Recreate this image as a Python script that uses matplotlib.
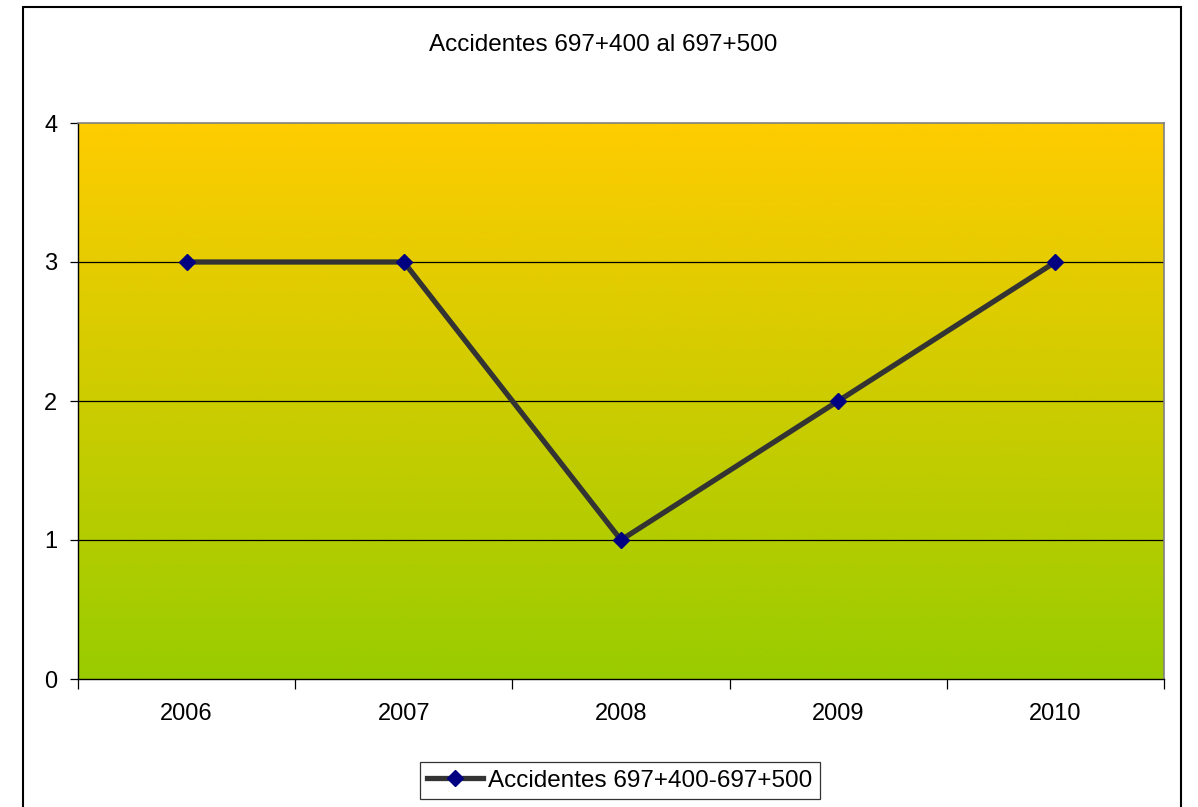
import matplotlib
matplotlib.use("Agg")
import matplotlib.pyplot as plt
import numpy as np
from matplotlib.colors import LinearSegmentedColormap
from matplotlib.patches import Rectangle

plt.rcParams["font.family"] = ["Liberation Sans", "DejaVu Sans"]

# Data
years = ["2006", "2007", "2008", "2009", "2010"]
accidents = [3, 3, 1, 2, 3]
series_label = "Accidentes 697+400-697+500"
title = "Accidentes 697+400 al 697+500"

fig = plt.figure(figsize=(11.98, 8.07), dpi=100)
ax = fig.add_axes([78 / 1198, 1 - 679 / 807, (1164 - 78) / 1198, (679 - 123) / 807])

# Vertical gradient background: orange-yellow on top, green at the bottom
grad = LinearSegmentedColormap.from_list("bg", ["#99CC00", "#FFCC00"])
ax.imshow(np.linspace(0, 1, 256).reshape(-1, 1), cmap=grad, origin="lower",
          extent=[0, 1, 0, 1], transform=ax.transAxes, aspect="auto", zorder=0)

x = np.arange(len(years))
ax.plot(x, accidents, color="#333333", lw=3.8, marker="D", ms=8.5,
        mfc="#000080", mec="#000080", label=series_label, zorder=3)

ax.set_xlim(-0.5, len(years) - 0.5)
ax.set_ylim(0, 4)
ax.set_yticks([0, 1, 2, 3, 4])
for yv in [1, 2, 3]:
    ax.axhline(yv, color="black", lw=0.9, zorder=1)

# Category ticks on the boundaries, labels in the middle
ax.set_xticks(np.arange(-0.5, len(years), 1.0))
ax.set_xticklabels([])
ax.set_xticks(x, minor=True)
ax.set_xticklabels(years, minor=True)
ax.tick_params(axis="x", which="major", length=7, width=0.9, color="black")
ax.tick_params(axis="x", which="minor", length=0, pad=17, labelsize=17)
ax.tick_params(axis="y", length=6, width=0.9, pad=9, labelsize=17)

for side in ["left", "bottom"]:
    ax.spines[side].set_color("black")
    ax.spines[side].set_linewidth(1.0)
for side in ["top", "right"]:
    ax.spines[side].set_color("#808080")
    ax.spines[side].set_linewidth(1.2)

fig.text(603 / 1198, 1 - 45 / 807, title, ha="center", va="center", fontsize=17.5)

leg = fig.legend(loc="center", bbox_to_anchor=(620 / 1198, 1 - 780.5 / 807),
                 fontsize=17.5, frameon=True, fancybox=False, handlelength=2.3,
                 handletextpad=0.2, borderpad=0.3, borderaxespad=0)
leg.get_frame().set_edgecolor("black")
leg.get_frame().set_linewidth(0.9)

# Outer chart border
fig.patches.append(Rectangle((23 / 1198, -0.02), (1181 - 23) / 1198, 1.02 - 7 / 807,
                             transform=fig.transFigure, fill=False,
                             edgecolor="black", lw=1.5, clip_on=False))

fig.savefig("out.png", dpi=100)
